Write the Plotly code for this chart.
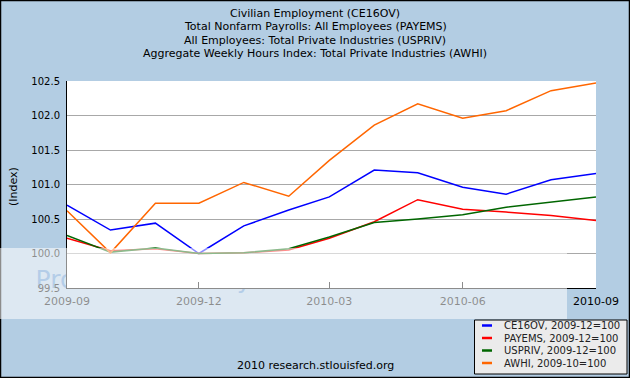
import plotly.graph_objects as go

# ---------------- data ----------------
months = ["2009-09-01", "2009-10-01", "2009-11-01", "2009-12-01", "2010-01-01",
          "2010-02-01", "2010-03-01", "2010-04-01", "2010-05-01", "2010-06-01",
          "2010-07-01", "2010-08-01", "2010-09-01"]
ce16ov = [100.70, 100.34, 100.44, 100.00, 100.40, 100.63, 100.82, 101.21, 101.17,
          100.96, 100.86, 101.07, 101.16]
payems = [100.22, 100.04, 100.07, 100.00, 100.01, 100.05, 100.22, 100.46, 100.78,
          100.64, 100.60, 100.55, 100.48]
uspriv = [100.26, 100.02, 100.08, 100.00, 100.01, 100.07, 100.24, 100.45, 100.50,
          100.56, 100.67, 100.75, 100.82]
awhi = [100.62, 100.01, 100.73, 100.73, 101.03, 100.83, 101.35, 101.86, 102.17,
        101.96, 102.07, 102.36, 102.47]

series_names = ["CE16OV, 2009-12=100", "PAYEMS, 2009-12=100",
                "USPRIV, 2009-12=100", "AWHI, 2009-10=100"]
series_colors = ["#0000FF", "#FF0000", "#006600", "#FF6600"]
series_values = [ce16ov, payems, uspriv, awhi]

title_lines = ["Civilian Employment (CE16OV)",
               "Total Nonfarm Payrolls: All Employees (PAYEMS)",
               "All Employees: Total Private Industries (USPRIV)",
               "Aggregate Weekly Hours Index: Total Private Industries (AWHI)"]
watermark = "Protect more of your memories for less."

# ---------------- layout geometry ----------------
W, H = 630, 378
L, R, T, B = 67, 34, 81, 90
PW, PH = W - L - R, H - T - B


def px(x):
    return (x - L) / PW


def py(y):
    return (H - B - y) / PH


FONT = "DejaVu Sans"
BG = "#B3CDE3"

fig = go.Figure()

# watermark on a hidden background subplot (x/y); the chart subplot (x2/y2)
# overlaps it and its own white background hides the text inside the plot area
fig.add_trace(go.Scatter(x=[px(284)], y=[py(282)], mode="text", text=[watermark],
                         textposition="middle center", cliponaxis=False,
                         textfont=dict(family=FONT, size=25, color="#5A90CC"),
                         hoverinfo="skip", showlegend=False, xaxis="x", yaxis="y"))

for name, color, vals in zip(series_names, series_colors, series_values):
    fig.add_trace(go.Scatter(x=months, y=vals, mode="lines", name=name,
                             line=dict(color=color, width=1.5), showlegend=False,
                             xaxis="x2", yaxis="y2"))

shapes = []
annotations = []

# black frame around the whole image
shapes.append(dict(type="rect", xref="paper", yref="paper", layer="above",
                   x0=px(0.5), x1=px(629.5), y0=py(0.5), y1=py(377.5),
                   line=dict(color="black", width=1.5), fillcolor="rgba(0,0,0,0)"))
# whitish watermark band
shapes.append(dict(type="rect", xref="paper", yref="paper", layer="above",
                   x0=px(0), x1=px(567), y0=py(248), y1=py(319),
                   line=dict(width=0), fillcolor="rgba(255,255,255,0.55)"))

# manual legend
shapes.append(dict(type="rect", xref="paper", yref="paper", layer="above",
                   x0=px(474.5), x1=px(627), y0=py(320), y1=py(374),
                   line=dict(color="black", width=1), fillcolor="#EBEBEB"))
leg_y = [325.5, 338, 350.5, 363]
for name, color, yy in zip(series_names, series_colors, leg_y):
    shapes.append(dict(type="line", xref="paper", yref="paper", layer="above",
                       x0=px(482), x1=px(492), y0=py(yy), y1=py(yy),
                       line=dict(color=color, width=2.5)))
    annotations.append(dict(text=name, xref="paper", yref="paper", x=px(502),
                            y=py(yy), xanchor="left", yanchor="middle",
                            showarrow=False, font=dict(family=FONT, size=10, color="#222222")))

# title lines
for i, line in enumerate(title_lines):
    annotations.append(dict(text=line, xref="paper", yref="paper", x=px(315),
                            y=py(13 + i * 13.5), xanchor="center", yanchor="middle",
                            showarrow=False, font=dict(family=FONT, size=11, color="black")))

# y axis title
annotations.append(dict(text="(Index)", xref="paper", yref="paper", x=px(13),
                        y=py(187), xanchor="center", yanchor="middle", textangle=-90,
                        showarrow=False, font=dict(family=FONT, size=11, color="black")))
# footer
annotations.append(dict(text="2010 research.stlouisfed.org", xref="paper", yref="paper",
                        x=px(315), y=py(365), xanchor="center", yanchor="middle",
                        showarrow=False, font=dict(family=FONT, size=11, color="black")))

fig.update_layout(
    width=W, height=H,
    margin=dict(l=L, r=R, t=T, b=B, pad=0),
    paper_bgcolor=BG, plot_bgcolor="white",
    showlegend=False,
    shapes=shapes, annotations=annotations,
    font=dict(family=FONT, color="black"),
    xaxis=dict(domain=[0, 1], range=[0, 1], visible=False, fixedrange=True),
    yaxis=dict(domain=[0, 1], range=[0, 1], visible=False, fixedrange=True),
    xaxis2=dict(domain=[0, 1], anchor="y2", type="date", range=[months[0], months[-1]],
                tick0=months[0], dtick="M3", tickformat="%Y-%m", showgrid=False,
                showline=True, linecolor="black", linewidth=1, ticks="inside",
                ticklen=6, tickcolor="black",
                tickfont=dict(family=FONT, size=11, color="black"), ticklabelstandoff=3,
                zeroline=False),
    yaxis2=dict(domain=[0, 1], anchor="x2", range=[99.5, 102.5], dtick=0.5, tick0=99.5,
                tickformat=".1f", showgrid=True, gridcolor="#A8A8A8", gridwidth=1,
                showline=True, linecolor="black", linewidth=1, ticks="", zeroline=False,
                tickfont=dict(family=FONT, size=10, color="black"), ticklabelstandoff=4),
)

fig.write_html("out.html", config={"displayModeBar": False},
               post_script="document.body.style.margin='0px';")
